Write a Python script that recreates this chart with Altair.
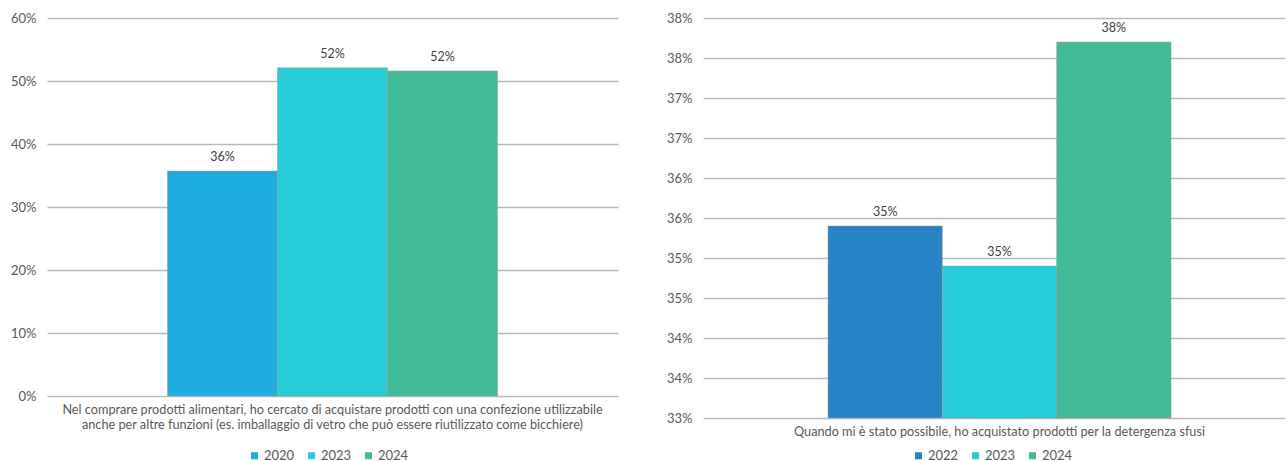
import altair as alt
import pandas as pd

# ---- data ----
left_lines = [
    "Nel comprare prodotti alimentari, ho cercato di acquistare prodotti con una confezione utilizzabile",
    "anche per altre funzioni (es. imballaggio di vetro che può essere riutilizzato come bicchiere)",
]
left_years = ["2020", "2023", "2024"]
left_values = [35.7, 52.1, 51.6]
left_colors = ["#1EACE1", "#27CDD6", "#43BA97"]
left_ticks = [0, 10, 20, 30, 40, 50, 60]

right_lines = ["Quando mi è stato possibile, ho acquistato prodotti per la detergenza sfusi"]
right_years = ["2022", "2023", "2024"]
right_values = [35.4, 34.9, 37.7]
right_colors = ["#2683C6", "#27CDD6", "#43BA97"]
right_ticks = [33, 33.5, 34, 34.5, 35, 35.5, 36, 36.5, 37, 37.5, 38]

FONT = "Lato"
TXT = "#595959"
GRID = "#B8B8B8"


def panel(lines, years, values, colors, ticks, width, height, pad_outer, align, legend_x, legend_y):
    cat = "|".join(lines)
    df = pd.DataFrame({"cat": [cat] * len(years), "year": years, "value": values})
    dmin, dmax = ticks[0], ticks[-1]
    base = alt.Chart(df).encode(
        x=alt.X(
            "cat:N",
            title=None,
            scale=alt.Scale(paddingInner=0, paddingOuter=pad_outer, align=align),
            axis=alt.Axis(
                labelAngle=0,
                labelExpr="split(datum.label, '|')",
                labelFont=FONT,
                labelFontSize=12.7,
                labelColor=TXT,
                labelLineHeight=15,
                labelPadding=7,
                ticks=False,
                domain=False,
                labelLimit=800,
            ),
        ),
        xOffset=alt.XOffset("year:N", sort=years, scale=alt.Scale(paddingInner=0, paddingOuter=0)),
        y=alt.Y(
            "value:Q",
            title=None,
            scale=alt.Scale(domain=[dmin, dmax], zero=False, nice=False),
            axis=alt.Axis(
                values=ticks,
                labelExpr="round(datum.value) + '%'",
                labelOverlap=False,
                labelFont=FONT,
                labelFontSize=13,
                labelColor=TXT,
                labelPadding=11,
                ticks=False,
                domain=False,
                gridColor=GRID,
                gridWidth=1.6,
            ),
        ),
    )
    bars = base.mark_bar(stroke="#9A9A9A", strokeWidth=0.5).encode(
        y2=alt.datum(dmin),
        color=alt.Color(
            "year:N",
            sort=years,
            scale=alt.Scale(domain=years, range=colors),
            legend=alt.Legend(
                title=None,
                orient="none",
                legendX=legend_x,
                legendY=legend_y,
                direction="horizontal",
                symbolType="square",
                symbolSize=49,
                symbolStrokeWidth=0,
                labelFont=FONT,
                labelFontSize=13,
                labelColor=TXT,
                labelOffset=3,
                columnPadding=10,
            ),
        ),
    )
    labels = base.mark_text(
        baseline="bottom", dy=-7, font=FONT, fontSize=12.5, color="#404040"
    ).encode(
        text=alt.Text("label:N"),
    ).transform_calculate(label="round(datum.value) + '%'")
    return alt.layer(bars, labels).properties(width=width, height=height)


left = panel(left_lines, left_years, left_values, left_colors, left_ticks,
             571, 378, 0.365, 0.5, 201, 431)
right = panel(right_lines, right_years, right_values, right_colors, right_ticks,
              582, 400, 0.3484, 0.523, 209, 431)

chart = alt.hconcat(left, right, spacing=48).resolve_scale(
    color="independent", y="independent", x="independent", xOffset="independent"
).properties(
    padding={"left": 10, "top": 12, "right": 0, "bottom": 0}
).configure(background="white").configure_view(stroke=None)

chart.save("out.html", embed_options={"renderer": "svg", "actions": False})
